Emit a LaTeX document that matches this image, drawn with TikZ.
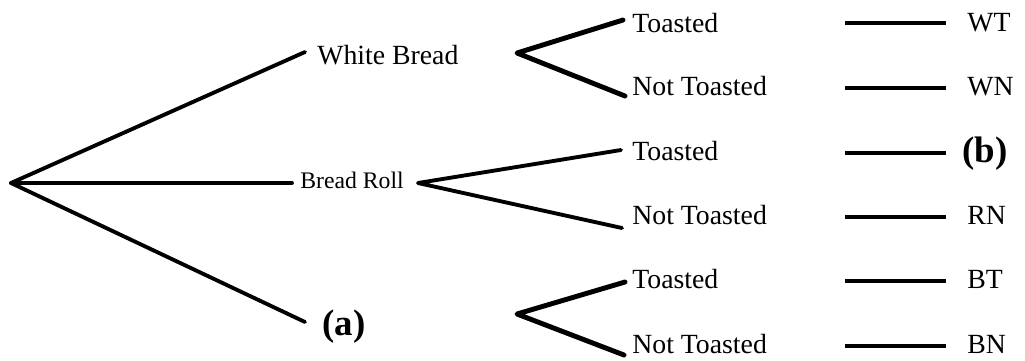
\documentclass[tikz,border=0pt]{standalone}
\usepackage{fontspec}
\setmainfont{Liberation Serif}
\begin{document}
\begin{tikzpicture}[x=0.02cm,y=-0.02cm,
  branch/.style={line width=2.2pt,line cap=round,line join=round},
  thick branch/.style={line width=2.8pt,line cap=round,line join=round},
  dashline/.style={line width=1.9pt},
  lbl/.style={anchor=base west,inner sep=0pt,font=\fontsize{15.8}{18}\selectfont},
  small lbl/.style={anchor=base west,inner sep=0pt,font=\fontsize{13.5}{15}\selectfont},
  big lbl/.style={anchor=base west,inner sep=0pt,font=\fontsize{21}{24}\selectfont\bfseries}]
\useasboundingbox (0,0) rectangle (1025,360);
% first level
\coordinate (root) at (11,183);
\coordinate (wbE) at (305,52);
\coordinate (brE) at (292,183);
\coordinate (aE) at (305,322);
\node[lbl] (wb) at (317,64) {White Bread};
\node[small lbl] (br) at (300,188) {Bread Roll};
\node[big lbl] (a) at (322,335) {(a)};
\draw[branch] (root) -- (wbE);
\draw[branch] (root) -- (brE);
\draw[branch] (root) -- (aE);
% second level vertices
\coordinate (v1) at (517,53);
\coordinate (v2) at (418,183);
\coordinate (v3) at (517,314);
% end points
\coordinate (t1) at (623,20);
\coordinate (n1) at (625,96);
\coordinate (t2) at (621,150);
\coordinate (n2) at (622,228);
\coordinate (t3) at (625,282);
\coordinate (n3) at (624,355);
\draw[thick branch] (t1) -- (v1) -- (n1);
\draw[branch] (t2) -- (v2) -- (n2);
\draw[thick branch] (t3) -- (v3) -- (n3);
% outcome labels
\node[lbl] (T1) at (632,32) {Toasted};
\node[lbl] (N1) at (632,95) {Not Toasted};
\node[lbl] (T2) at (632,160) {Toasted};
\node[lbl] (N2) at (632,224) {Not Toasted};
\node[lbl] (T3) at (632,288) {Toasted};
\node[lbl] (N3) at (632,353) {Not Toasted};
% right dashes
\foreach \i/\y in {1/23,2/88,3/153,4/217,5/281,6/346}{
  \coordinate (dL\i) at (845,\y);
  \coordinate (dR\i) at (946,\y);
  \draw[dashline] (dL\i) -- (dR\i);
}
\node[lbl] (WT) at (967,31) {WT};
\node[lbl] (WN) at (967,95) {WN};
\node[big lbl] (b) at (962,162) {(b)};
\node[lbl] (RN) at (967,224) {RN};
\node[lbl] (BT) at (967,288) {BT};
\node[lbl] (BN) at (967,353) {BN};
\end{tikzpicture}
\end{document}
